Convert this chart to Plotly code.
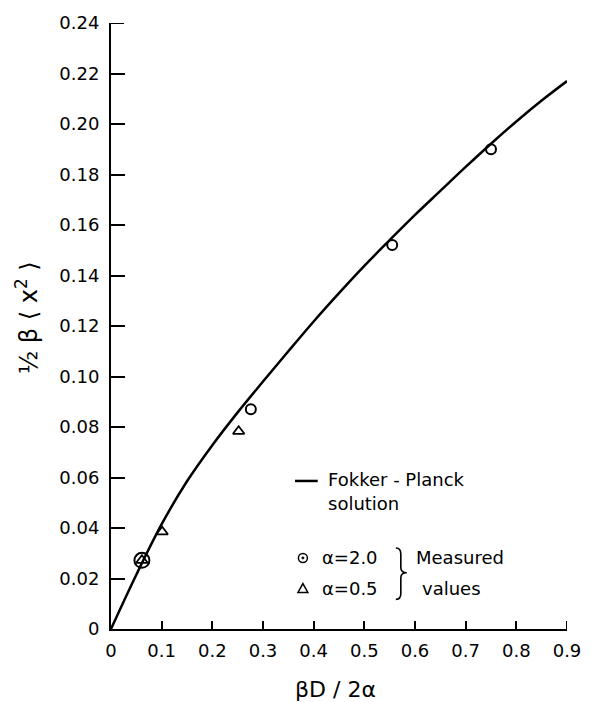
import plotly.graph_objects as go

# Fokker-Planck solution curve
curve_x = [0, 0.05, 0.1, 0.15, 0.2, 0.25, 0.3, 0.35, 0.4, 0.45, 0.5, 0.55, 0.6, 0.65, 0.7, 0.75, 0.8, 0.85, 0.9]
curve_y = [0, 0.0215, 0.0415, 0.0585, 0.0728, 0.0858, 0.0980, 0.1100, 0.1218, 0.1330, 0.1438, 0.1540, 0.1640, 0.1735, 0.1830, 0.1922, 0.2010, 0.2093, 0.2170]

# Measured values
alpha2_x = [0.061, 0.276, 0.555, 0.750]
alpha2_y = [0.0272, 0.0870, 0.1521, 0.1900]
alpha05_x = [0.061, 0.101, 0.252]
alpha05_y = [0.0272, 0.0385, 0.0783]

x_ticks = [0, 0.1, 0.2, 0.3, 0.4, 0.5, 0.6, 0.7, 0.8, 0.9]
x_tick_text = ["0", "0.1", "0.2", "0.3", "0.4", "0.5", "0.6", "0.7", "0.8", "0.9"]
y_ticks = [0, 0.02, 0.04, 0.06, 0.08, 0.10, 0.12, 0.14, 0.16, 0.18, 0.20, 0.22, 0.24]
y_tick_text = ["0", "0.02", "0.04", "0.06", "0.08", "0.10", "0.12", "0.14", "0.16", "0.18", "0.20", "0.22", "0.24"]

FONT = "DejaVu Sans"
W, H = 593, 702
L, R, T, B = 111, 21, 15, 73
PW, PH = W - L - R, H - T - B


def px(xp):
    return (xp - L) / PW


def py(yp):
    return (H - B - yp) / PH


fig = go.Figure()
fig.add_trace(go.Scatter(x=curve_x, y=curve_y, mode="lines",
                         line=dict(color="black", width=2.5, shape="spline", smoothing=1.0),
                         showlegend=False, hoverinfo="skip"))
fig.add_trace(go.Scatter(x=alpha2_x, y=alpha2_y, mode="markers",
                         marker=dict(symbol="circle-open", size=[15, 10, 10, 10], color="black",
                                     opacity=1, line=dict(width=2, color="black")),
                         showlegend=False))
fig.add_trace(go.Scatter(x=alpha05_x, y=alpha05_y, mode="markers",
                         marker=dict(symbol="triangle-up-open", size=10, color="black",
                                     opacity=1, line=dict(width=1.8, color="black")),
                         showlegend=False))

shapes = []
# end ticks (Plotly omits ticks sitting on the range ends)
shapes.append(dict(type="line", xref="x", yref="paper", ysizemode="pixel", yanchor=0,
                   x0=x_ticks[-1], x1=x_ticks[-1], y0=0, y1=8, line=dict(color="black", width=2)))
shapes.append(dict(type="line", yref="y", xref="paper", xsizemode="pixel", xanchor=0,
                   y0=y_ticks[-1], y1=y_ticks[-1], x0=0, x1=13, line=dict(color="black", width=2)))
# legend line
shapes.append(dict(type="line", xref="paper", yref="paper", x0=px(297), x1=px(320), y0=py(479), y1=py(479),
                   line=dict(color="black", width=2.5)))
# circle-dot legend symbol
shapes.append(dict(type="circle", xref="paper", yref="paper", xsizemode="pixel", ysizemode="pixel",
                   xanchor=px(305), yanchor=py(557), x0=-4.5, x1=4.5, y0=-4.5, y1=4.5,
                   line=dict(color="black", width=1.5)))
shapes.append(dict(type="circle", xref="paper", yref="paper", xsizemode="pixel", ysizemode="pixel",
                   xanchor=px(305), yanchor=py(557), x0=-1, x1=1, y0=-1, y1=1,
                   fillcolor="black", line=dict(color="black", width=1)))
# triangle legend symbol
tx, ty = 305, 588
shapes.append(dict(type="path", xref="paper", yref="paper",
                   path=f"M {px(tx-5)},{py(ty+4)} L {px(tx+5)},{py(ty+4)} L {px(tx)},{py(ty-5)} Z",
                   line=dict(color="black", width=1.5)))
# brace
bx0, bx1, bx2 = px(399), px(404), px(410)
shapes.append(dict(type="path", xref="paper", yref="paper",
                   path=(f"M {bx0},{py(547)} Q {bx1},{py(547)} {bx1},{py(553)} L {bx1},{py(567)} "
                         f"Q {bx1},{py(572)} {bx2},{py(572)} Q {bx1},{py(572)} {bx1},{py(577)} "
                         f"L {bx1},{py(593)} Q {bx1},{py(599)} {bx0},{py(599)}"),
                   line=dict(color="black", width=1.6)))

ann_font = dict(family=FONT, size=18, color="black")
annotations = [
    dict(text="Fokker - Planck", x=px(328), y=py(478), xanchor="left", yanchor="middle"),
    dict(text="solution", x=px(328), y=py(502), xanchor="left", yanchor="middle"),
    dict(text="α=2.0", x=px(322), y=py(557), xanchor="left", yanchor="middle"),
    dict(text="α=0.5", x=px(322), y=py(588), xanchor="left", yanchor="middle"),
    dict(text="Measured", x=px(417), y=py(557), xanchor="left", yanchor="middle"),
    dict(text="values", x=px(423), y=py(588), xanchor="left", yanchor="middle"),
]
for a in annotations:
    a.update(xref="paper", yref="paper", showarrow=False, font=ann_font)
annotations.append(dict(text="βD / 2α", x=px(338), y=py(690), xref="paper", yref="paper",
                        showarrow=False, xanchor="center", yanchor="middle",
                        font=dict(family=FONT, size=22, color="black")))
annotations.append(dict(text="½ β ⟨ x<sup>2</sup> ⟩", x=px(26), y=py(313), xref="paper", yref="paper",
                        showarrow=False, xanchor="center", yanchor="middle", textangle=-90,
                        font=dict(family=FONT, size=24, color="black")))

fig.update_layout(
    width=W, height=H,
    margin=dict(l=L, r=R, t=T, b=B, pad=0),
    paper_bgcolor="white", plot_bgcolor="white",
    shapes=shapes, annotations=annotations,
    font=dict(family=FONT, size=18, color="black"),
    xaxis=dict(range=[0, 0.9], tickmode="array", tickvals=x_ticks, ticktext=x_tick_text,
               ticks="inside", ticklen=8, tickwidth=2, tickcolor="black",
               showline=True, linecolor="black", linewidth=2,
               showgrid=False, zeroline=False, ticklabelstandoff=4,
               tickfont=dict(family=FONT, size=18, color="black")),
    yaxis=dict(range=[0, 0.24], tickmode="array", tickvals=y_ticks, ticktext=y_tick_text,
               ticks="inside", ticklen=14, tickwidth=2, tickcolor="black",
               showline=True, linecolor="black", linewidth=2,
               showgrid=False, zeroline=False, ticklabelstandoff=6,
               tickfont=dict(family=FONT, size=18, color="black")),
    showlegend=False,
)

fig.write_html("out.html")
